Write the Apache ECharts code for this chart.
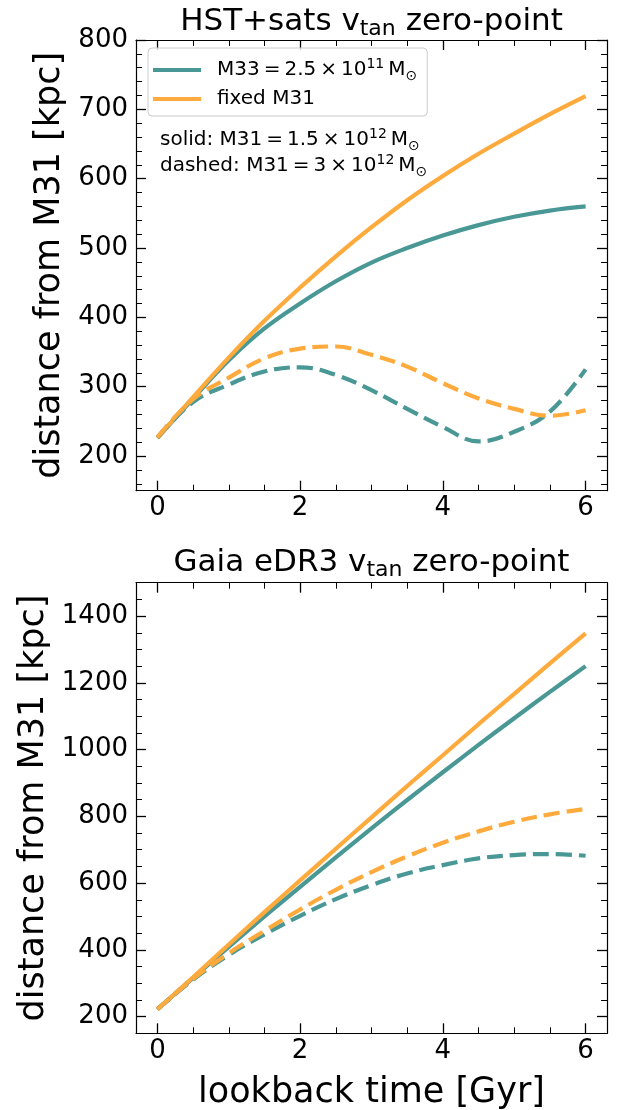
<!DOCTYPE html>
<html><head><meta charset="utf-8">
<script src="https://cdn.jsdelivr.net/npm/echarts@6/dist/echarts.min.js"></script>
<style>html,body{margin:0;padding:0;background:#fff}#c{width:632px;height:1110px}</style>
</head><body><div id="c"></div>
<script>
// lookback time [Gyr]
const time = [0, 0.5, 1, 1.5, 2, 2.5, 3, 3.5, 4, 4.5, 5, 5.5, 6];
// Top panel: HST+sats v_tan zero-point
const hstM33Solid   = [226, 283, 338, 384, 420, 452, 479, 500, 518, 533, 545, 554, 560];
const hstFixedSolid = [226, 285, 342, 395, 443, 488, 530, 569, 604, 636, 665, 693, 719];
const hstM33Dashed  = [227, 278, 303, 322, 328, 317, 295, 268, 242, 221, 235, 264, 325];
const hstFixedDashed= [227, 282, 313, 341, 355, 358, 346, 329, 305, 283, 268, 258, 266];
// Bottom panel: Gaia eDR3 v_tan zero-point
const gaiaM33Solid   = [222, 316, 409, 500, 589, 677, 764, 849, 932, 1014, 1094, 1173, 1250];
const gaiaFixedSolid = [222, 318, 416, 513, 608, 703, 797, 891, 983, 1076, 1167, 1258, 1348];
const gaiaM33Dashed  = [222, 311, 385, 446, 502, 552, 594, 629, 654, 674, 684, 687, 682];
const gaiaFixedDashed= [222, 313, 390, 457, 521, 580, 633, 680, 721, 755, 784, 806, 822];
// ticks
const xMajor = [0, 2, 4, 6];
const xMinor = [0.5, 1, 1.5, 2.5, 3, 3.5, 4.5, 5, 5.5];
const topYMajor = [200, 300, 400, 500, 600, 700, 800];
const topYMinor = [160,180,220,240,260,280,320,340,360,380,420,440,460,480,520,540,560,580,620,640,660,680,720,740,760,780];
const botYMajor = [200, 400, 600, 800, 1000, 1200, 1400];
const botYMinor = [250,300,350,450,500,550,650,700,750,850,900,950,1050,1100,1150,1250,1300,1350,1450];

const teal = '#4a9896', orange = '#ffaa3c';
const FONT = 'DejaVu Sans';
const TS = '\u2009'; // thin space (mathtext spacing)
const pairs = ys => time.map((t, i) => [t, ys[i]]);

function xAxes(grid, showLabel) {
  const base = {type:'value', gridIndex:grid, min:-0.3, max:6.3, splitLine:{show:false}};
  const lineOn = {show:true, onZero:false, lineStyle:{color:'#000', width:1.2}};
  return [
    Object.assign({}, base, {position:'bottom', axisLine:lineOn,
      axisTick:{show:true, inside:true, length:10, customValues:xMajor, lineStyle:{color:'#000', width:1.3}},
      axisLabel:{show:true, customValues:xMajor, margin:5, color:'#000', fontSize:26, fontFamily:FONT, formatter: v => String(v)},
      name: showLabel ? 'lookback time [Gyr]' : '', nameLocation:'middle', nameGap:42,
      nameTextStyle:{fontSize:35, fontFamily:FONT, color:'#000'}}),
    Object.assign({}, base, {position:'bottom', axisLine:{show:false, onZero:false},
      axisTick:{show:true, inside:true, length:6, customValues:xMinor, lineStyle:{color:'#000', width:1}},
      axisLabel:{show:false}}),
    Object.assign({}, base, {position:'top', axisLine:lineOn,
      axisTick:{show:true, inside:true, length:10, customValues:xMajor, lineStyle:{color:'#000', width:1.3}},
      axisLabel:{show:false}}),
    Object.assign({}, base, {position:'top', axisLine:{show:false, onZero:false},
      axisTick:{show:true, inside:true, length:6, customValues:xMinor, lineStyle:{color:'#000', width:1}},
      axisLabel:{show:false}})
  ];
}
function yAxes(grid, min, max, major, minor, gap) {
  const base = {type:'value', gridIndex:grid, min:min, max:max, splitLine:{show:false}};
  const lineOn = {show:true, onZero:false, lineStyle:{color:'#000', width:1.2}};
  return [
    Object.assign({}, base, {position:'left', axisLine:lineOn,
      axisTick:{show:true, inside:true, length:10, customValues:major, lineStyle:{color:'#000', width:1.3}},
      axisLabel:{show:true, customValues:major, margin:8, color:'#000', fontSize:26, fontFamily:FONT, formatter: v => String(v)},
      name:'distance from M31 [kpc]', nameLocation:'middle', nameGap:gap, nameRotate:90,
      nameTextStyle:{fontSize:35, fontFamily:FONT, color:'#000'}}),
    Object.assign({}, base, {position:'left', axisLine:{show:false, onZero:false},
      axisTick:{show:true, inside:true, length:6, customValues:minor, lineStyle:{color:'#000', width:1}},
      axisLabel:{show:false}}),
    Object.assign({}, base, {position:'right', axisLine:lineOn,
      axisTick:{show:true, inside:true, length:10, customValues:major, lineStyle:{color:'#000', width:1.3}},
      axisLabel:{show:false}}),
    Object.assign({}, base, {position:'right', axisLine:{show:false, onZero:false},
      axisTick:{show:true, inside:true, length:6, customValues:minor, lineStyle:{color:'#000', width:1}},
      axisLabel:{show:false}})
  ];
}
function line(name, data, color, dashed, xi, yi) {
  return {name:name, type:'line', xAxisIndex:xi, yAxisIndex:yi, data:pairs(data), smooth:0.4,
    showSymbol:false, symbol:'none', silent:true, animation:false, itemStyle:{color:color},
    lineStyle:{color:color, width:4.2, type: dashed ? [16, 7] : 'solid', cap:'butt'}};
}
const supRich = {
  t:{fontSize:20, fontFamily:FONT, fontWeight:'normal', color:'#000', lineHeight:26},
  sup:{fontSize:14, fontFamily:FONT, fontWeight:'normal', color:'#000', verticalAlign:'top', lineHeight:15},
  sub:{fontSize:14, fontFamily:FONT, fontWeight:'normal', color:'#000', verticalAlign:'bottom', lineHeight:15}
};
const titleRich = {
  a:{fontSize:31, fontFamily:FONT, fontWeight:'normal', color:'#000', lineHeight:36},
  b:{fontSize:22, fontFamily:FONT, fontWeight:'normal', color:'#000', verticalAlign:'bottom', lineHeight:22}
};
const mathText = (prefix, mant, exp) => '{t|' + prefix + TS + '=' + TS + mant + TS + '×' + TS + '10}{sup|' + exp + '}{t|' + TS + 'M}{sub|⊙}';
const option = {
  animation:false,
  backgroundColor:'#fff',
  title:[
    {text:'{a|HST+sats v}{b|tan}{a| zero-point}', left:371.5, top:4, textAlign:'center', padding:0,
     textStyle:{fontWeight:'normal', rich:titleRich}},
    {text:'{a|Gaia eDR3 v}{b|tan}{a| zero-point}', left:371.5, top:545, textAlign:'center', padding:0,
     textStyle:{fontWeight:'normal', rich:titleRich}}
  ],
  grid:[
    {left:136, top:40, width:471, height:450.7, containLabel:false, outerBoundsMode:'none'},
    {left:136, top:582.7, width:471, height:450.6, containLabel:false, outerBoundsMode:'none'}
  ],
  xAxis: xAxes(0, false).concat(xAxes(1, true)),
  yAxis: yAxes(0, 150, 800, topYMajor, topYMinor, 62).concat(yAxes(1, 150, 1500, botYMajor, botYMinor, 83)),
  legend:{
    data:['M33', 'fixed M31'], orient:'vertical', left:148, top:48, selectedMode:false,
    icon:'rect', itemWidth:48, itemHeight:4, itemGap:6, padding:[9, 10, 7, 5],
    backgroundColor:'rgba(255,255,255,0.8)', borderColor:'#cccccc', borderWidth:1, borderRadius:4,
    formatter: n => n === 'M33' ? mathText('M33', '2.5', '11') : '{t|fixed M31}',
    textStyle:{padding:[0,0,0,11], rich:supRich}
  },
  graphic:[
    {type:'text', x:160, y:140, style:{text:'{t|solid: }' + mathText('M31', '1.5', '12'), rich:supRich, verticalAlign:'middle'}},
    {type:'text', x:160, y:166, style:{text:'{t|dashed: }' + mathText('M31', '3', '12'), rich:supRich, verticalAlign:'middle'}}
  ],
  series:[
    line('M33', hstM33Solid, teal, false, 0, 0),
    line('fixed M31', hstFixedSolid, orange, false, 0, 0),
    line('M33 dashed', hstM33Dashed, teal, true, 0, 0),
    line('fixed M31 dashed', hstFixedDashed, orange, true, 0, 0),
    line('M33 Gaia', gaiaM33Solid, teal, false, 4, 4),
    line('fixed M31 Gaia', gaiaFixedSolid, orange, false, 4, 4),
    line('M33 Gaia dashed', gaiaM33Dashed, teal, true, 4, 4),
    line('fixed M31 Gaia dashed', gaiaFixedDashed, orange, true, 4, 4)
  ]
};
const chart = echarts.init(document.getElementById('c'), null, {renderer:'canvas'});
chart.setOption(option);
</script></body></html>
